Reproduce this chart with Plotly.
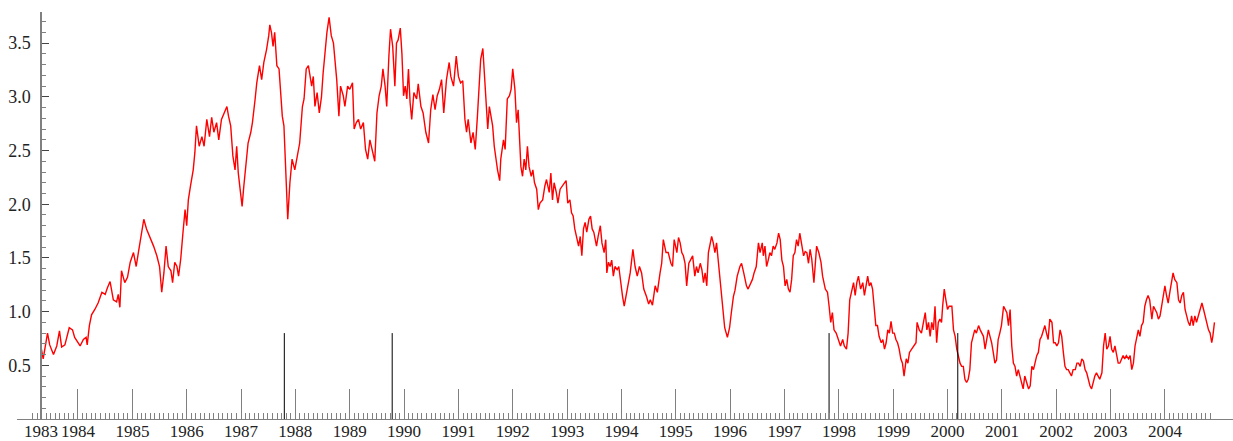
import datetime as dt
import plotly.graph_objects as go

# ---- data (decimal year, value) ----
t_dec = [
 1983.32,1983.36,1983.44,1983.48,1983.55,1983.61,1983.66,1983.70,1983.76,1983.80,1983.84,1983.90,1983.94,
 1984.04,1984.10,1984.15,1984.17,1984.21,1984.25,1984.31,1984.37,1984.44,1984.50,1984.54,1984.59,1984.65,
 1984.71,1984.74,1984.77,1984.80,1984.86,1984.91,1984.96,
 1985.02,1985.07,1985.11,1985.17,1985.21,1985.26,1985.32,1985.39,1985.45,1985.50,1985.54,1985.58,1985.62,
 1985.66,1985.71,1985.74,1985.78,1985.82,1985.85,1985.89,1985.93,1985.97,
 1986.00,1986.03,1986.07,1986.12,1986.15,1986.18,1986.23,1986.28,1986.32,1986.37,1986.42,1986.46,1986.50,
 1986.55,1986.59,1986.64,1986.69,1986.74,1986.77,1986.81,1986.85,1986.89,1986.92,1986.95,1986.99,
 1987.02,1987.05,1987.09,1987.13,1987.18,1987.21,1987.26,1987.29,1987.34,1987.38,1987.42,1987.47,1987.51,
 1987.53,1987.56,1987.59,1987.62,1987.66,1987.70,1987.73,1987.76,1987.79,1987.81,1987.84,1987.86,1987.90,
 1987.94,1987.99,
 1988.04,1988.08,1988.13,1988.16,1988.20,1988.24,1988.30,1988.33,1988.36,1988.40,1988.44,1988.48,1988.51,
 1988.55,1988.58,1988.62,1988.66,1988.70,1988.73,1988.76,1988.80,1988.83,1988.88,1988.91,1988.96,
 1989.00,1989.05,1989.08,1989.12,1989.16,1989.20,1989.25,1989.29,1989.33,1989.37,1989.42,1989.46,1989.50,
 1989.54,1989.58,1989.61,1989.65,1989.68,1989.72,1989.75,1989.79,1989.83,1989.86,1989.89,1989.93,1989.96,
 1989.99,
 1990.02,1990.05,1990.08,1990.11,1990.14,1990.18,1990.23,1990.26,1990.31,1990.35,1990.40,1990.45,1990.49,
 1990.53,1990.57,1990.61,1990.65,1990.69,1990.73,1990.78,1990.83,1990.86,1990.91,1990.96,
 1991.00,1991.04,1991.08,1991.12,1991.15,1991.18,1991.23,1991.27,1991.31,1991.35,1991.38,1991.41,1991.45,
 1991.48,1991.51,1991.54,1991.57,1991.60,1991.63,1991.66,1991.69,1991.72,1991.76,1991.78,1991.83,1991.86,
 1991.90,1991.94,1991.97,
 1992.00,1992.04,1992.07,1992.10,1992.12,1992.15,1992.18,1992.21,1992.24,1992.27,1992.30,1992.34,1992.37,
 1992.40,1992.44,1992.47,1992.50,1992.55,1992.59,1992.62,1992.67,1992.70,1992.73,1992.76,1992.80,1992.83,
 1992.87,1992.91,1992.95,1992.98,
 1993.01,1993.05,1993.08,1993.11,1993.14,1993.18,1993.21,1993.24,1993.27,1993.30,1993.33,1993.36,1993.40,
 1993.43,1993.46,1993.49,1993.54,1993.57,1993.61,1993.64,1993.68,1993.71,1993.73,1993.76,1993.79,1993.82,
 1993.85,1993.88,1993.92,1993.95,1993.99,
 1994.02,1994.05,1994.10,1994.16,1994.21,1994.25,1994.29,1994.33,1994.37,1994.41,1994.46,1994.50,1994.53,
 1994.57,1994.62,1994.66,1994.71,1994.74,1994.77,1994.82,1994.86,1994.91,1994.94,1994.97,
 1995.02,1995.05,1995.08,1995.11,1995.14,1995.17,1995.20,1995.24,1995.27,1995.31,1995.35,1995.38,1995.41,
 1995.45,1995.48,1995.51,1995.54,1995.57,1995.60,1995.63,1995.66,1995.69,1995.72,1995.75,1995.79,1995.83,
 1995.86,1995.90,1995.95,1995.99,
 1996.02,1996.06,1996.09,1996.13,1996.18,1996.21,1996.25,1996.30,1996.33,1996.38,1996.41,1996.44,1996.48,
 1996.52,1996.55,1996.59,1996.61,1996.64,1996.67,1996.70,1996.73,1996.76,1996.79,1996.82,1996.86,1996.89,
 1996.92,1996.95,1996.98,
 1997.01,1997.04,1997.07,1997.10,1997.13,1997.16,1997.19,1997.22,1997.25,1997.28,1997.32,1997.35,1997.38,
 1997.41,1997.44,1997.47,1997.50,1997.54,1997.59,1997.63,1997.67,1997.70,1997.75,1997.79,1997.82,1997.85,
 1997.88,1997.91,1997.95,1997.99,
 1998.03,1998.07,1998.10,1998.14,1998.17,1998.20,1998.24,1998.27,1998.30,1998.33,1998.36,1998.40,1998.44,
 1998.47,1998.50,1998.53,1998.56,1998.59,1998.62,1998.65,1998.68,1998.71,1998.74,1998.78,1998.81,1998.84,
 1998.87,1998.90,1998.93,1998.96,1998.99,
 1999.02,1999.05,1999.08,1999.11,1999.14,1999.17,1999.20,1999.24,1999.27,1999.30,1999.34,1999.38,1999.42,
 1999.44,1999.48,1999.52,1999.55,1999.59,1999.62,1999.65,1999.68,1999.71,1999.74,1999.77,1999.80,1999.83,
 1999.86,1999.89,1999.91,1999.94,1999.97,
 2000.00,2000.03,2000.08,2000.11,2000.14,2000.17,2000.20,2000.23,2000.26,2000.29,2000.32,2000.35,2000.38,
 2000.41,2000.44,2000.47,2000.50,2000.53,2000.57,2000.60,2000.63,2000.66,2000.69,2000.72,2000.75,2000.78,
 2000.81,2000.84,2000.87,2000.90,2000.93,2000.96,2000.99,
 2001.03,2001.06,2001.09,2001.12,2001.15,2001.18,2001.21,2001.24,2001.27,2001.30,2001.33,2001.36,2001.39,
 2001.42,2001.46,2001.49,2001.52,2001.55,2001.58,2001.61,2001.64,2001.67,2001.70,2001.73,2001.76,2001.79,
 2001.82,2001.85,2001.88,2001.92,2001.95,2001.98,
 2002.01,2002.04,2002.07,2002.10,2002.13,2002.16,2002.19,2002.22,2002.25,2002.28,2002.31,2002.35,2002.38,
 2002.41,2002.44,2002.47,2002.50,2002.53,2002.56,2002.59,2002.62,2002.65,2002.68,2002.71,2002.74,2002.77,
 2002.80,2002.84,2002.87,2002.90,2002.93,2002.96,2002.99,
 2003.02,2003.05,2003.08,2003.11,2003.14,2003.17,2003.20,2003.23,2003.26,2003.29,2003.33,2003.36,2003.39,
 2003.42,2003.45,2003.48,2003.51,2003.54,2003.57,2003.60,2003.63,2003.66,2003.69,2003.72,2003.76,2003.79,
 2003.82,2003.85,2003.88,2003.91,2003.94,2003.97,
 2004.00,2004.03,2004.06,2004.09,2004.12,2004.15,2004.18,2004.22,2004.25,2004.28,2004.31,2004.34,2004.37,
 2004.40,2004.43,2004.46,2004.49,2004.52,2004.55,2004.58,2004.61,2004.65,2004.68,2004.71,2004.74,2004.77,
 2004.80,2004.83,2004.86,2004.88,2004.90,2004.91,
]
spread = [
 0.67,0.56,0.80,0.69,0.60,0.68,0.82,0.67,0.69,0.77,0.85,0.83,0.76,
 0.68,0.74,0.76,0.69,0.87,0.97,1.02,1.08,1.18,1.16,1.22,1.28,1.11,
 1.09,1.16,1.04,1.38,1.27,1.32,1.46,
 1.55,1.42,1.55,1.73,1.86,1.77,1.70,1.61,1.52,1.42,1.18,1.36,1.61,
 1.42,1.38,1.27,1.46,1.42,1.33,1.49,1.73,1.95,
 1.80,2.04,2.17,2.32,2.48,2.73,2.54,2.63,2.54,2.79,2.63,2.81,2.67,
 2.76,2.60,2.79,2.85,2.91,2.82,2.73,2.45,2.32,2.54,2.29,2.11,
 1.98,2.16,2.35,2.57,2.67,2.76,2.98,3.13,3.29,3.16,3.32,3.44,3.57,
 3.67,3.60,3.47,3.60,3.29,3.26,3.04,2.82,2.73,2.45,2.04,1.86,2.20,
 2.42,2.32,
 2.45,2.57,2.91,2.98,3.26,3.29,3.10,3.19,2.91,3.04,2.85,3.00,3.22,
 3.44,3.60,3.74,3.57,3.50,3.35,3.16,2.82,3.10,3.01,2.91,3.10,
 3.07,3.13,2.70,2.76,2.79,2.70,2.76,2.51,2.42,2.60,2.48,2.40,2.85,
 3.01,3.10,3.26,3.10,2.91,3.38,3.63,3.47,3.10,3.50,3.53,3.64,3.40,
 3.01,
 3.10,2.98,3.26,2.95,2.79,3.04,2.98,3.12,2.91,2.85,2.67,2.57,2.88,
 3.02,2.88,3.01,3.07,3.16,2.85,3.16,3.32,3.19,3.10,3.38,
 3.19,3.13,3.15,2.79,2.67,2.79,2.57,2.67,2.51,2.82,3.13,3.35,3.45,
 3.19,3.04,2.70,2.91,2.82,2.73,2.54,2.42,2.32,2.22,2.42,2.60,2.51,
 2.98,3.01,3.07,
 3.26,3.07,2.76,2.88,2.63,2.35,2.26,2.42,2.32,2.54,2.35,2.26,2.32,
 2.20,2.14,1.95,2.01,2.04,2.17,2.23,2.11,2.29,2.04,2.20,2.11,2.01,
 2.14,2.17,2.20,2.22,
 2.01,2.04,1.92,1.89,1.77,1.67,1.61,1.70,1.52,1.77,1.83,1.74,1.86,
 1.89,1.77,1.74,1.61,1.70,1.80,1.64,1.55,1.67,1.36,1.46,1.42,1.48,
 1.33,1.42,1.39,1.42,1.24,
 1.14,1.05,1.18,1.36,1.58,1.42,1.33,1.42,1.36,1.21,1.14,1.07,1.11,
 1.06,1.24,1.18,1.36,1.45,1.67,1.55,1.55,1.45,1.42,1.67,
 1.55,1.69,1.64,1.55,1.52,1.45,1.24,1.45,1.48,1.52,1.33,1.42,1.36,
 1.45,1.39,1.27,1.36,1.24,1.55,1.64,1.70,1.64,1.55,1.64,1.42,1.18,
 1.00,0.85,0.76,0.85,
 0.98,1.14,1.20,1.33,1.42,1.45,1.36,1.24,1.21,1.27,1.30,1.36,1.42,
 1.64,1.55,1.64,1.52,1.61,1.42,1.48,1.55,1.52,1.61,1.58,1.64,1.73,
 1.67,1.48,1.42,
 1.24,1.30,1.21,1.18,1.30,1.52,1.55,1.67,1.61,1.73,1.61,1.52,1.56,
 1.55,1.45,1.58,1.49,1.27,1.61,1.55,1.46,1.33,1.21,1.18,1.05,0.90,
 0.99,0.83,0.80,0.74,
 0.68,0.74,0.68,0.65,0.80,1.11,1.21,1.27,1.15,1.27,1.33,1.21,1.27,
 1.15,1.24,1.33,1.24,1.27,1.21,1.05,0.87,0.87,0.77,0.71,0.74,0.65,
 0.71,0.83,0.80,0.91,0.80,
 0.80,0.74,0.71,0.65,0.56,0.52,0.40,0.56,0.52,0.62,0.65,0.68,0.71,
 0.90,0.83,0.80,0.87,0.99,0.83,0.90,0.77,0.90,0.83,1.05,0.71,0.90,
 0.93,0.90,1.05,1.21,1.11,
 1.02,1.05,1.05,0.83,0.77,0.65,0.59,0.52,0.49,0.49,0.37,0.34,0.37,
 0.46,0.71,0.77,0.83,0.80,0.87,0.83,0.80,0.77,0.65,0.74,0.83,0.77,
 0.71,0.62,0.52,0.55,0.74,0.80,0.87,
 1.05,1.02,0.99,0.87,1.02,0.68,0.52,0.49,0.40,0.46,0.40,0.34,0.28,
 0.40,0.34,0.28,0.31,0.49,0.46,0.52,0.59,0.62,0.74,0.77,0.83,0.87,
 0.80,0.74,0.93,0.90,0.71,0.71,
 0.68,0.71,0.83,0.77,0.62,0.49,0.46,0.46,0.43,0.40,0.46,0.46,0.52,
 0.52,0.49,0.56,0.54,0.46,0.43,0.37,0.31,0.28,0.34,0.40,0.43,0.40,
 0.37,0.43,0.68,0.80,0.65,0.68,0.77,
 0.65,0.62,0.68,0.59,0.52,0.52,0.56,0.59,0.56,0.59,0.56,0.59,0.46,
 0.52,0.68,0.77,0.83,0.77,0.87,0.90,1.05,1.11,1.15,1.11,0.93,1.05,
 1.02,0.99,0.93,0.96,1.05,1.15,
 1.24,1.15,1.08,1.18,1.27,1.36,1.30,1.27,1.11,1.08,1.15,1.18,1.02,
 0.96,0.90,0.87,0.96,0.87,0.96,0.90,0.96,1.02,1.08,1.02,0.96,0.90,
 0.83,0.80,0.71,0.77,0.87,0.90,
]

# market events marked with tall black lines
event_dates = ["1987-10-19", "1989-10-13", "1997-10-27", "2000-03-10"]
event_height = 0.8

year_labels = [str(y) for y in range(1984, 2005)]
first_label = "1983"
first_label_pos = 1983.32

y_tick_vals = [0.5, 1.0, 1.5, 2.0, 2.5, 3.0, 3.5]
y_tick_text = ["0.5", "1.0", "1.5", "2.0", "2.5", "3.0", "3.5"]


def dec_to_dt(d):
    y = int(d)
    a = dt.datetime(y, 1, 1)
    b = dt.datetime(y + 1, 1, 1)
    return a + (b - a) * (d - y)


x_dates = [dec_to_dt(d) for d in t_dec]

# tick positions
year_ticks = [dt.datetime(int(y), 1, 1) for y in year_labels]
month_ticks = []
m_y, m_m = 1983, 3
while (m_y, m_m) <= (2004, 11):
    month_ticks.append(dt.datetime(m_y, m_m, 1))
    m_m += 1
    if m_m > 12:
        m_m = 1
        m_y += 1

label_vals = [dec_to_dt(first_label_pos)] + year_ticks
label_text = [first_label] + year_labels

# event lines
ev_x, ev_y = [], []
for d in event_dates:
    ev_x += [d, d, None]
    ev_y += [0, event_height, None]

FONT = "Liberation Serif, Times New Roman, serif"
AX = "#808080"

fig = go.Figure()
fig.add_trace(go.Scatter(x=x_dates, y=spread, mode="lines",
                         line=dict(color="#ff0000", width=1.4),
                         showlegend=False, hoverinfo="skip"))
fig.add_trace(go.Scatter(x=ev_x, y=ev_y, mode="lines", xaxis="x2",
                         line=dict(color="#000000", width=1),
                         showlegend=False, hoverinfo="skip"))

x_lo = dec_to_dt(1982.878)
x_hi = dec_to_dt(2005.251)

fig.update_layout(
    width=1233, height=441,
    margin=dict(l=17, r=0, t=12, b=22, autoexpand=False),
    paper_bgcolor="white", plot_bgcolor="white",
    font=dict(family=FONT, size=18, color="#222222"),
    xaxis=dict(
        type="date", range=[x_lo, x_hi], automargin=False,
        showgrid=False, zeroline=False,
        showline=True, linecolor=AX, linewidth=1,
        tickmode="array", tickvals=label_vals, ticktext=label_text,
        ticks="", ticklabelstandoff=-3, tickangle=0,
        tickfont=dict(family=FONT, size=17, color="#222222"),
        minor=dict(tickmode="array", tickvals=month_ticks, ticks="inside",
                   ticklen=6, tickcolor=AX, tickwidth=1, showgrid=False),
        anchor="y",
    ),
    xaxis2=dict(
        type="date", range=[x_lo, x_hi], overlaying="x", anchor="y",
        side="bottom", showgrid=False, zeroline=False, showline=False,
        automargin=False,
        tickmode="array", tickvals=year_ticks, ticks="inside",
        ticklen=30, tickcolor=AX, tickwidth=1, showticklabels=False,
    ),
    yaxis=dict(
        range=[0, 3.79], anchor="free", position=24 / 1216, automargin=False,
        showgrid=False, zeroline=False,
        showline=True, linecolor=AX, linewidth=1.5,
        tickmode="array", tickvals=y_tick_vals, ticktext=y_tick_text,
        ticks="inside", ticklen=7, tickcolor="#444444", tickwidth=1,
        ticklabelstandoff=6,
        tickfont=dict(family=FONT, size=18, color="#222222"),
        minor=dict(tick0=0, dtick=0.1, ticks="inside", ticklen=4,
                   tickcolor=AX, tickwidth=1, showgrid=False),
    ),
)

fig.write_html(
    "out.html",
    config={"displayModeBar": False},
    post_script="document.body.style.margin='0';document.body.style.padding='0';"
                "document.body.style.overflow='hidden';",
)
